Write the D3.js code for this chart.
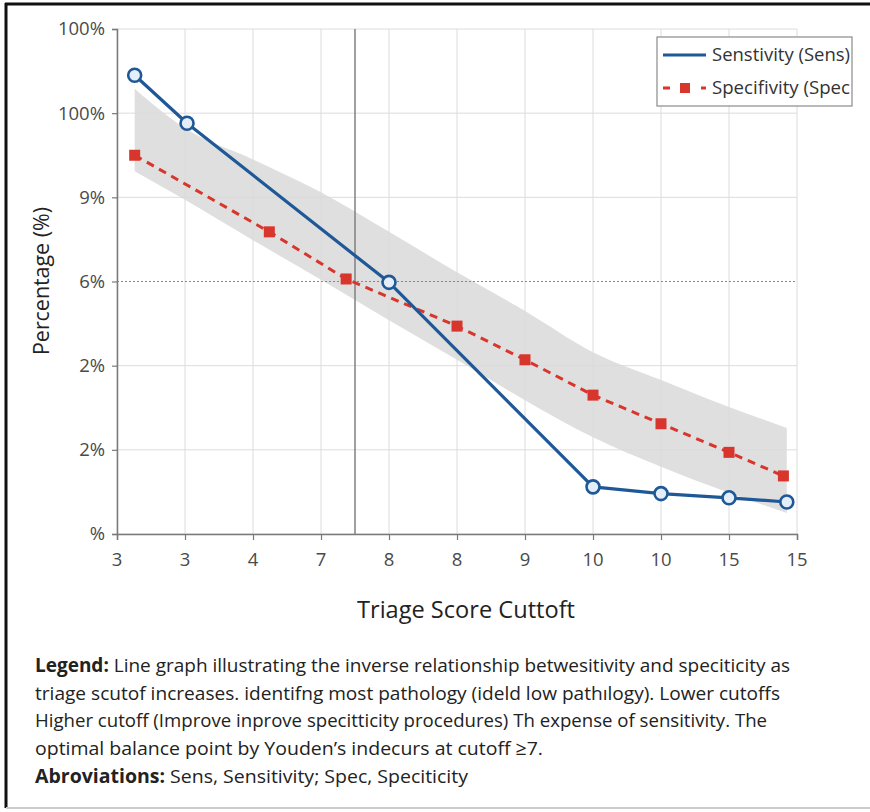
<!DOCTYPE html>
<html>
<head>
<meta charset="utf-8">
<script src="https://cdn.jsdelivr.net/npm/d3@7"></script>
<style>
	body { margin: 0; background: #fff; }
	svg { display: block; }
</style>
</head>
<body>
<div id="chart"></div>
<script>
// tick labels as printed on the figure
let xTickLabels = ["3", "3", "4", "7", "8", "8", "9", "10", "10", "15", "15"];
let yTickLabels = ["%", "2%", "2%", "6%", "9%", "100%", "100%"];

// sensitivity (position on the cutoff axis, value in grid units)
let sensPos = [0.26, 1.03, 4, 7, 8, 9, 9.85];
let sensVal = [5.45, 4.88, 2.99, 0.56, 0.48, 0.43, 0.38];

// specificity
let specPos = [0.26, 2.24, 3.37, 5, 6, 7, 8, 9, 9.8];
let specVal = [4.50, 3.59, 3.03, 2.47, 2.07, 1.65, 1.31, 0.97, 0.69];

// shaded confidence band
let bandPos = [0.26, 1, 2, 3, 4, 5, 6, 7, 8, 9, 9.85];
let bandUpper = [5.29, 4.82, 4.45, 4.06, 3.59, 3.11, 2.65, 2.16, 1.83, 1.51, 1.26];
let bandLower = [4.31, 3.97, 3.49, 3.02, 2.54, 2.07, 1.59, 1.15, 0.80, 0.49, 0.25];

let youdenPos = 3.5;
let dottedRef = 3;

let legendItems = ["Senstivity (Sens)", "Specifivity (Spec"];

let captionLines = [
	[["Legend:", true], [" Line graph illustrating the inverse relationship betwesitivity and speciticity as", false]],
	[["triage scutof incr\u0435ases.  identifng most pathology (ideld low pathılogy). Lower cutoffs", false]],
	[["Higher cutoff (Improve inprove specitticity procedures) Th expense of sensitivity.  The", false]],
	[["optimal balance point by Youden\u2019s indecurs at cutoff \u22657.", false]],
	[["Abroviations:", true], ["  Sens, Sensitivity; Spec, Speciticity", false]]
];
let captionWidths = [755, 745, 732, 508, 433];

let width = 870, height = 812;
let blue = "#1f5896", red = "#d8352c";

let svg = d3.select("#chart").append("svg")
	.attr("width", width)
	.attr("height", height)
	.style("font-family", "'Open Sans', sans-serif");

// frame
svg.append("line").attr("x1", 6).attr("x2", 6).attr("y1", 3).attr("y2", 808)
	.attr("stroke", "#111").attr("stroke-width", 3);
svg.append("line").attr("x1", 5).attr("x2", width).attr("y1", 4).attr("y2", 4)
	.attr("stroke", "#111").attr("stroke-width", 3);
svg.append("line").attr("x1", 6).attr("x2", width).attr("y1", 808).attr("y2", 808)
	.attr("stroke", "#ccc").attr("stroke-width", 2);

let x = d3.scaleLinear().domain([0, 10]).range([117, 797]);
let y = d3.scaleLinear().domain([0, 6]).range([534, 29]);

let g = svg.append("g");

// grid
g.selectAll(".vgrid").data(d3.range(11)).enter().append("line")
	.attr("x1", d => x(d)).attr("x2", d => x(d))
	.attr("y1", y(6)).attr("y2", y(0))
	.attr("stroke", "#dcdcdc").attr("stroke-width", 1);
g.selectAll(".hgrid").data(d3.range(7).filter(d => d != dottedRef)).enter().append("line")
	.attr("x1", x(0)).attr("x2", x(10))
	.attr("y1", d => y(d)).attr("y2", d => y(d))
	.attr("stroke", "#dcdcdc").attr("stroke-width", 1);

// band
let area = d3.area()
	.x((d, i) => x(bandPos[i]))
	.y0((d, i) => y(bandLower[i]))
	.y1((d, i) => y(bandUpper[i]))
	.curve(d3.curveMonotoneX);
g.append("path").datum(bandPos)
	.attr("d", area)
	.attr("fill", "#d9d9d9")
	.attr("opacity", 0.85);

// reference lines
g.append("line")
	.attr("x1", x(0)).attr("x2", x(10))
	.attr("y1", y(dottedRef)).attr("y2", y(dottedRef))
	.attr("stroke", "#888").attr("stroke-width", 1.2)
	.attr("stroke-dasharray", "2,2");
g.append("line")
	.attr("x1", x(youdenPos)).attr("x2", x(youdenPos))
	.attr("y1", y(6)).attr("y2", y(0))
	.attr("stroke", "#808080").attr("stroke-width", 1.5);

// axes (tick marks from d3, labels drawn separately below)
let xAxis = d3.axisBottom(x).tickValues(d3.range(11))
	.tickFormat("").tickSizeOuter(0).tickSize(6);
let yAxis = d3.axisLeft(y).tickValues(d3.range(7))
	.tickFormat("").tickSizeOuter(0).tickSize(5);

let xg = svg.append("g").attr("transform", "translate(0," + y(0) + ")").call(xAxis);
let yg = svg.append("g").attr("transform", "translate(" + x(0) + ",0)").call(yAxis);
[xg, yg].forEach(a => {
	a.select(".domain").attr("stroke", "#7a7a7a").attr("stroke-width", 1.5);
	a.selectAll(".tick line").attr("stroke", "#7a7a7a").attr("stroke-width", 1.2);
});

svg.selectAll(".xlbl").data(xTickLabels).enter().append("text")
	.attr("x", (d, i) => x(i))
	.attr("y", y(0) + 32)
	.attr("text-anchor", "middle")
	.attr("fill", "#4a4a4a")
	.style("font-size", "18.5px")
	.text(d => d);

svg.selectAll(".ylbl").data(yTickLabels).enter().append("text")
	.attr("x", x(0) - 12)
	.attr("y", (d, i) => y(i))
	.attr("dy", "0.35em")
	.attr("text-anchor", "end")
	.attr("fill", "#4a4a4a")
	.style("font-size", "18.5px")
	.text(d => d);

// series lines
let sensLine = d3.line().x((d, i) => x(sensPos[i])).y(d => y(d));
let specLine = d3.line().x((d, i) => x(specPos[i])).y(d => y(d));

g.append("path").datum(specVal)
	.attr("d", specLine)
	.attr("fill", "none")
	.attr("stroke", red).attr("stroke-width", 3)
	.attr("stroke-dasharray", "8,6");

g.append("path").datum(sensVal)
	.attr("d", sensLine)
	.attr("fill", "none")
	.attr("stroke", blue).attr("stroke-width", 3.2)
	.attr("stroke-linejoin", "round");

g.selectAll(".sq").data(specVal).enter().append("rect")
	.attr("x", (d, i) => x(specPos[i]) - 5.5)
	.attr("y", d => y(d) - 5.5)
	.attr("width", 11).attr("height", 11)
	.attr("fill", red);

g.selectAll(".dot").data(sensVal).enter().append("circle")
	.attr("cx", (d, i) => x(sensPos[i]))
	.attr("cy", d => y(d))
	.attr("r", 6.5)
	.attr("fill", "#e3eef8")
	.attr("stroke", blue).attr("stroke-width", 2.6);

// axis titles
svg.append("text")
	.attr("transform", "translate(49,281) rotate(-90)")
	.attr("text-anchor", "middle")
	.attr("fill", "#222")
	.attr("textLength", 148)
	.attr("lengthAdjust", "spacingAndGlyphs")
	.style("font-size", "21px")
	.text("Percentage (%)");

svg.append("text")
	.attr("x", 466).attr("y", 618)
	.attr("text-anchor", "middle")
	.attr("fill", "#222")
	.attr("textLength", 218)
	.attr("lengthAdjust", "spacingAndGlyphs")
	.style("font-size", "23px")
	.text("Triage Score Cuttoft");

// legend
let lg = svg.append("g");
lg.append("rect")
	.attr("x", 657).attr("y", 37).attr("width", 195).attr("height", 69)
	.attr("fill", "#fff").attr("stroke", "#8a8a8a").attr("stroke-width", 1.2);
lg.append("line").attr("x1", 663).attr("x2", 706).attr("y1", 55).attr("y2", 55)
	.attr("stroke", blue).attr("stroke-width", 3.2);
lg.append("line").attr("x1", 663).attr("x2", 706).attr("y1", 88).attr("y2", 88)
	.attr("stroke", red).attr("stroke-width", 3).attr("stroke-dasharray", "7,12");
lg.append("rect").attr("x", 680).attr("y", 83).attr("width", 10).attr("height", 10).attr("fill", red);
lg.selectAll(".lt").data(legendItems).enter().append("text")
	.attr("x", 712).attr("y", (d, i) => 55 + i * 33)
	.attr("dy", "0.35em")
	.attr("fill", "#333")
	.attr("textLength", 138)
	.attr("lengthAdjust", "spacingAndGlyphs")
	.style("font-size", "18px")
	.text(d => d);

// caption
let cap = svg.selectAll(".cap").data(captionLines).enter().append("text")
	.attr("x", 35)
	.attr("y", (d, i) => 672 + i * 27.5 + (i == 4 ? 1 : 0))
	.attr("fill", "#222")
	.attr("textLength", (d, i) => captionWidths[i])
	.attr("lengthAdjust", "spacingAndGlyphs")
	.style("font-size", "19px");
cap.selectAll("tspan").data(d => d).enter().append("tspan")
	.style("font-weight", d => d[1] ? "bold" : "normal")
	.text(d => d[0]);
</script>
</body>
</html>
